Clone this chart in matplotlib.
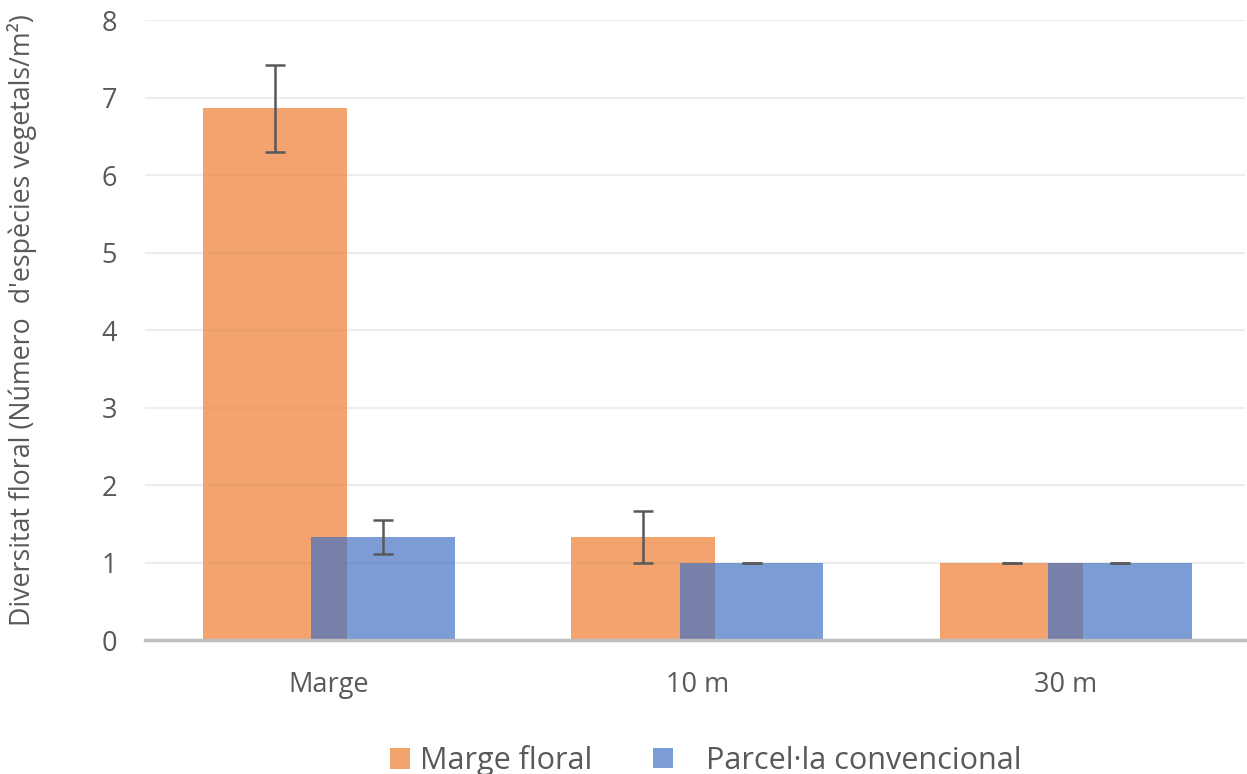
import numpy as np
import matplotlib
matplotlib.use("Agg")
import matplotlib.pyplot as plt

categories = ["Marge", "10 m", "30 m"]
marge_floral = [6.86, 1.33, 1.0]
marge_floral_err = [0.56, 0.33, 0.0]
parcela = [1.33, 1.0, 1.0]
parcela_err = [0.22, 0.0, 0.0]
series_labels = ["Marge floral", "Parcel·la convencional"]
yticks = [0, 1, 2, 3, 4, 5, 6, 7, 8]

plt.rcParams["font.family"] = ["Open Sans", "DejaVu Sans"]
TXT = "#595959"

fig = plt.figure(figsize=(12.47, 7.74), dpi=100)
ax = fig.add_axes([0.116, 0.173, 0.882, 0.801])

x = np.arange(len(categories))
w = 0.39
off = 0.147
ebar = dict(ecolor="#595959", elinewidth=1.8, capsize=7, capthick=1.8)
b1 = ax.bar(x - off, marge_floral, w, color="#ED7D31", alpha=0.7,
            label=series_labels[0], zorder=2)
ax.errorbar(x - off, marge_floral, yerr=marge_floral_err, fmt="none",
            zorder=4, **ebar)
b2 = ax.bar(x + off, parcela, w, color="#4472C4", alpha=0.7,
            label=series_labels[1], zorder=3)
ax.errorbar(x + off, parcela, yerr=parcela_err, fmt="none", zorder=4, **ebar)

ax.set_xlim(-0.5, 2.485)
ax.set_ylim(0, 8)
ax.set_yticks(yticks)
ax.set_xticks(x)
ax.set_xticklabels(categories)
ax.tick_params(axis="both", length=0, labelsize=19.5, colors=TXT)
ax.tick_params(axis="y", pad=20)
ax.tick_params(axis="x", pad=22)
ax.yaxis.grid(True, color="#EDEDED", linewidth=1.6, zorder=0)
ax.set_axisbelow(True)
for s in ("top", "right", "left"):
    ax.spines[s].set_visible(False)
ax.spines["bottom"].set_color("#BFBFBF")
ax.spines["bottom"].set_linewidth(2.5)
ax.spines["bottom"].set_zorder(5)

ax.set_ylabel("Diversitat floral (Número  d'espècies vegetals/m²)",
              fontsize=19.3, color=TXT)
ax.yaxis.set_label_coords(-0.098, 0.516)

# two separate legend entries: the gap between marker and text differs
leg_kw = dict(loc="center left", ncol=1, frameon=False, fontsize=22,
              labelcolor=TXT, handlelength=0.65, handleheight=0.65,
              borderpad=0, borderaxespad=0)
fig.legend([b1], [series_labels[0]], bbox_to_anchor=(390 / 1247, 0.017),
           handletextpad=0.33, **leg_kw)
fig.legend([b2], [series_labels[1]], bbox_to_anchor=(653 / 1247, 0.017),
           handletextpad=1.08, **leg_kw)

fig.savefig("out.png", dpi=100)
